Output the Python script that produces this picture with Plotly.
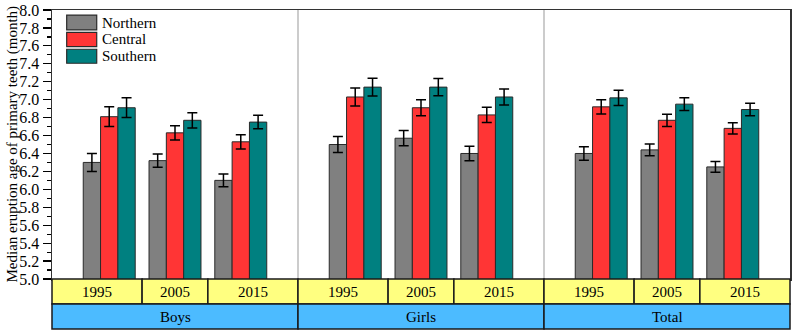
import plotly.graph_objects as go

groups = ["Boys", "Girls", "Total"]
years = ["1995", "2005", "2015"]
series = ["Northern", "Central", "Southern"]
colors = ["#808080", "#FF3535", "#008080"]

# values ordered Boys(1995,2005,2015), Girls(...), Total(...)
northern = [6.30, 6.32, 6.10, 6.50, 6.57, 6.40, 6.40, 6.44, 6.25]
central = [6.81, 6.63, 6.53, 7.03, 6.91, 6.83, 6.92, 6.77, 6.68]
southern = [6.91, 6.77, 6.75, 7.14, 7.14, 7.03, 7.02, 6.95, 6.89]
northern_err = [0.10, 0.075, 0.07, 0.09, 0.085, 0.08, 0.075, 0.065, 0.06]
central_err = [0.11, 0.08, 0.08, 0.10, 0.09, 0.085, 0.08, 0.068, 0.063]
southern_err = [0.11, 0.085, 0.075, 0.10, 0.095, 0.09, 0.085, 0.07, 0.07]

values = [northern, central, southern]
errors = [northern_err, central_err, southern_err]

G = 3.74   # group width in category units
PAD = 0.87
XMAX = G * len(groups)
xpos = [g * G + PAD + j for g in range(len(groups)) for j in range(len(years))]

FONT = "Liberation Serif, Times New Roman, serif"

fig = go.Figure()
for name, col, vals, errs in zip(series, colors, values, errors):
    fig.add_trace(go.Bar(
        x=xpos, y=vals, name=name, marker=dict(color=col, line=dict(color="#2a2a2a", width=1)),
        error_y=dict(type="data", array=errs, visible=True, color="black", thickness=1.5, width=5),
        showlegend=False, hoverinfo="skip",
    ))

shapes = []
annotations = []

PLOT_W = 738
PLOT_H = 269

def px(xd):
    return xd / XMAX

ROW = 25 / PLOT_H
# category rows
for g, gname in enumerate(groups):
    g0 = g * G
    bounds = [g0, g0 + PAD + 0.5, g0 + PAD + 1.5, g0 + G]
    for j, yr in enumerate(years):
        shapes.append(dict(type="rect", xref="paper", yref="paper",
                           x0=px(bounds[j]), x1=px(bounds[j + 1]), y0=-ROW, y1=0,
                           fillcolor="#FFFF80", line=dict(color="#1a1a1a", width=1.5)))
        annotations.append(dict(xref="paper", yref="paper", x=px((bounds[j] + bounds[j + 1]) / 2),
                                y=-ROW / 2, xanchor="center", yanchor="middle", text=yr,
                                showarrow=False, font=dict(family=FONT, size=15, color="black")))
    shapes.append(dict(type="rect", xref="paper", yref="paper",
                       x0=px(bounds[0]), x1=px(bounds[-1]), y0=-2 * ROW, y1=-ROW,
                       fillcolor="#4CBBFF", line=dict(color="#1a1a1a", width=1.5)))
    annotations.append(dict(xref="paper", yref="paper", x=px((bounds[0] + bounds[-1]) / 2),
                            y=-1.5 * ROW, xanchor="center", yanchor="middle", text=gname,
                            showarrow=False, font=dict(family=FONT, size=15, color="black")))
    if g > 0:
        shapes.append(dict(type="line", xref="paper", yref="paper", x0=px(g0), x1=px(g0),
                           y0=0, y1=1, line=dict(color="#aaaaaa", width=1.2), layer="below"))

# custom legend
leg_y = [(0.981, 0.926), (0.917, 0.864), (0.854, 0.802)]
for name, col, (y1, y0) in zip(series, colors, leg_y):
    shapes.append(dict(type="rect", xref="paper", yref="paper", x0=0.0199, x1=0.0606,
                       y0=y0, y1=y1, fillcolor=col, line=dict(color="#2a2a2a", width=1.2)))
    annotations.append(dict(xref="paper", yref="paper", x=0.0648, y=(y0 + y1) / 2,
                            xanchor="left", yanchor="middle", text=name, showarrow=False,
                            font=dict(family=FONT, size=15, color="black")))

# y-axis title
annotations.append(dict(xref="paper", yref="paper", x=-40 / PLOT_W, y=0.5,
                        xanchor="center", yanchor="middle", textangle=-90, showarrow=False,
                        text="Median eruption age of primary teeth (month)",
                        font=dict(family=FONT, size=15, color="black")))

fig.update_layout(
    width=792, height=332,
    margin=dict(l=52, r=2, t=10, b=53, autoexpand=False),
    paper_bgcolor="white", plot_bgcolor="white",
    barmode="group", bargap=0.21, bargroupgap=0,
    shapes=shapes, annotations=annotations,
    font=dict(family=FONT, size=14, color="black"),
    hovermode=False,
    xaxis=dict(range=[0, XMAX], showticklabels=False, ticks="", showgrid=False, zeroline=False,
               showline=True, mirror=True, linecolor="#333333", linewidth=1.5, automargin=False),
    yaxis=dict(range=[5.0, 8.0], dtick=0.2, tick0=5.0, tickformat=".1f", ticks="outside",
               ticklen=8, tickwidth=1.2, tickcolor="black", showgrid=False, zeroline=False,
               showline=True, mirror=True, linecolor="#333333", linewidth=1.5, automargin=False,
               tickfont=dict(family=FONT, size=16, color="black"),
               minor=dict(dtick=0.1, ticks="outside", ticklen=4, tickwidth=1.2, tickcolor="black")),
)

# remove the default 8px page margin so the figure fills the window exactly
fig.write_html("out.html", config={"displayModeBar": False, "staticPlot": True},
               post_script="document.body.style.margin='0';document.body.style.overflow='hidden';")
